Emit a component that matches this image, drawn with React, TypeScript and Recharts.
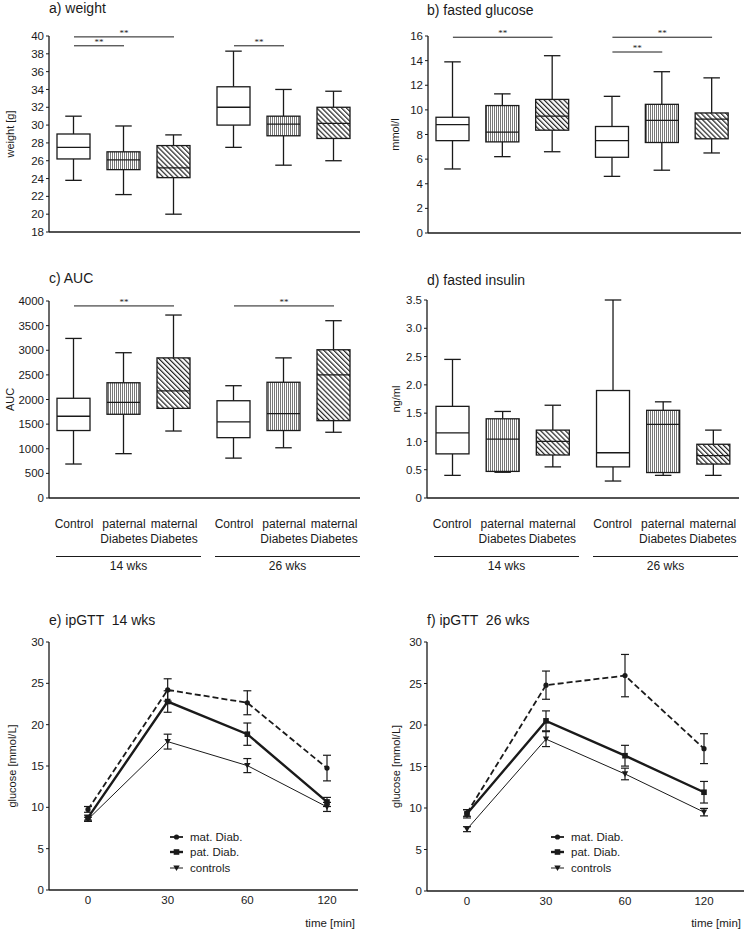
import React from "react";
import {
  ComposedChart,
  LineChart,
  Bar,
  Line,
  XAxis,
  YAxis,
  ReferenceLine,
  ErrorBar,
  Legend,
  Label,
} from "recharts";

const FONT = 'Arial, "Liberation Sans", Helvetica, sans-serif';
const INK = "#1a1a1a";

// box plot categories
const categories = ["Control", "paternal Diabetes", "maternal Diabetes", "Control", "paternal Diabetes", "maternal Diabetes"];
const positions = [1, 2, 3, 4.2, 5.2, 6.2];
const hatches = ["none", "vertical", "diagonal", "none", "vertical", "diagonal"];
const weekLabels = ["14 wks", "26 wks"];

// a) weight [g]
const weightMin = [23.8, 22.2, 20.0, 27.5, 25.5, 26.0];
const weightQ1 = [26.2, 25.0, 24.1, 30.0, 28.8, 28.5];
const weightMed = [27.5, 26.1, 25.2, 32.0, 30.1, 30.2];
const weightQ3 = [29.0, 27.0, 27.7, 34.3, 31.0, 32.0];
const weightMax = [31.0, 29.9, 28.9, 38.3, 34.0, 33.8];
const weightTicks = [18, 20, 22, 24, 26, 28, 30, 32, 34, 36, 38, 40];
const weightSig = [[0, 2, 39.9], [0, 1, 38.9], [3, 4, 38.9]];

// b) fasted glucose [mmol/l]
const glucoseMin = [5.2, 6.2, 6.6, 4.6, 5.1, 6.5];
const glucoseQ1 = [7.5, 7.4, 8.35, 6.15, 7.35, 7.65];
const glucoseMed = [8.8, 8.2, 9.5, 7.5, 9.15, 9.25];
const glucoseQ3 = [9.4, 10.35, 10.85, 8.65, 10.45, 9.75];
const glucoseMax = [13.9, 11.3, 14.4, 11.1, 13.1, 12.6];
const glucoseTicks = [0, 2, 4, 6, 8, 10, 12, 14, 16];
const glucoseSig = [[0, 2, 15.9], [3, 5, 15.9], [3, 4, 14.7]];

// c) AUC
const aucMin = [690, 900, 1360, 810, 1020, 1335];
const aucQ1 = [1370, 1700, 1820, 1225, 1370, 1570];
const aucMed = [1660, 1940, 2175, 1545, 1715, 2500];
const aucQ3 = [2025, 2340, 2845, 1975, 2350, 3010];
const aucMax = [3240, 2950, 3715, 2280, 2845, 3600];
const aucTicks = [0, 500, 1000, 1500, 2000, 2500, 3000, 3500, 4000];
const aucSig = [[0, 2, 3900], [3, 5, 3900]];

// d) fasted insulin [ng/ml]
const insulinMin = [0.4, 0.455, 0.55, 0.3, 0.4, 0.4];
const insulinQ1 = [0.78, 0.47, 0.76, 0.55, 0.45, 0.6];
const insulinMed = [1.15, 1.04, 1.0, 0.8, 1.3, 0.75];
const insulinQ3 = [1.62, 1.4, 1.2, 1.9, 1.55, 0.95];
const insulinMax = [2.45, 1.53, 1.64, 3.5, 1.7, 1.2];
const insulinTicks = [0, 0.5, 1, 1.5, 2, 2.5, 3, 3.5];

// e/f) ipGTT
const times = ["0", "30", "60", "120"];
const seriesNames = ["mat. Diab.", "pat. Diab.", "controls"];
const mat14 = [9.75, 24.2, 22.65, 14.75];
const mat14Err = [0.35, 1.35, 1.45, 1.55];
const pat14 = [8.75, 22.8, 18.85, 10.65];
const pat14Err = [0.3, 1.3, 1.35, 0.55];
const ctl14 = [8.55, 17.95, 15.05, 10.05];
const ctl14Err = [0.25, 0.9, 0.85, 0.55];
const mat26 = [9.4, 24.8, 25.95, 17.15];
const mat26Err = [0.4, 1.7, 2.55, 1.8];
const pat26 = [9.3, 20.5, 16.3, 11.9];
const pat26Err = [0.5, 1.2, 1.25, 1.3];
const ctl26 = [7.45, 18.3, 14.1, 9.5];
const ctl26Err = [0.3, 0.9, 0.7, 0.45];
const gttTicks = [0, 5, 10, 15, 20, 25, 30];

const hatchFill: Record<string, string> = {
  none: "#fff",
  vertical: "url(#hatch-v)",
  diagonal: "url(#hatch-d)",
};

function buildBoxes(min: number[], q1: number[], med: number[], q3: number[], max: number[]) {
  return positions.map((pos, i) => ({
    pos,
    name: categories[i],
    hatch: hatches[i],
    min: min[i],
    q1: q1[i],
    median: med[i],
    q3: q3[i],
    max: max[i],
    range: [min[i], max[i]],
  }));
}

function buildGtt(mat: number[], matErr: number[], pat: number[], patErr: number[], ctl: number[], ctlErr: number[]) {
  return times.map((t, i) => ({
    t,
    mat: mat[i],
    matErr: matErr[i],
    pat: pat[i],
    patErr: patErr[i],
    ctl: ctl[i],
    ctlErr: ctlErr[i],
  }));
}

const BoxShape = (props: any) => {
  const { x, y, width, height, payload } = props;
  if (x == null || y == null) return null;
  const top = Math.min(y, y + height);
  const h = Math.abs(height);
  const { min, q1, median, q3, max } = payload;
  const py = (v: number) => top + ((max - v) / (max - min)) * h;
  const cx = x + width / 2;
  const cap = width / 4;
  return (
    <g stroke={INK} strokeWidth={1.3}>
      <line x1={cx} x2={cx} y1={py(max)} y2={py(q3)} />
      <line x1={cx} x2={cx} y1={py(q1)} y2={py(min)} />
      <line x1={cx - cap} x2={cx + cap} y1={py(max)} y2={py(max)} />
      <line x1={cx - cap} x2={cx + cap} y1={py(min)} y2={py(min)} />
      <rect x={x} y={py(q3)} width={width} height={py(q1) - py(q3)} fill={hatchFill[payload.hatch]} />
      <line x1={x} x2={x + width} y1={py(median)} y2={py(median)} />
    </g>
  );
};

const CategoryTick = (props: any) => {
  const { x, y, payload } = props;
  const i = positions.indexOf(payload.value);
  const words = (categories[i] || "").split(" ");
  return (
    <text x={x} y={y} textAnchor="middle" fontSize={12} fill={INK} fontFamily={FONT}>
      {words.map((w, k) => (
        <tspan key={k} x={x} dy={k === 0 ? 0 : 15}>
          {w}
        </tspan>
      ))}
    </text>
  );
};

const tickStyle = { fontSize: 11.5, fill: INK, fontFamily: FONT };
const axisStyle = { stroke: INK, strokeWidth: 1.3 };

function BoxPanel(props: {
  data: any[];
  yDomain: [number, number];
  yTicks: number[];
  xDomain: [number, number];
  yLabel: string;
  labelOffset: number;
  sig: number[][];
  width: number;
  height: number;
  top: number;
  right: number;
  yWidth: number;
  showCats: boolean;
  fmt?: (v: number) => string;
}) {
  const p = props;
  return (
    <ComposedChart width={p.width} height={p.height} data={p.data} margin={{ top: p.top, right: p.right, bottom: 0, left: 0 }}>
      <XAxis
        dataKey="pos"
        type="number"
        domain={p.xDomain}
        ticks={positions}
        interval={0}
        axisLine={axisStyle}
        tickLine={false}
        tickSize={0}
        tickMargin={30}
        tick={p.showCats ? <CategoryTick /> : false}
        height={p.showCats ? 50 : 8}
      />
      <YAxis
        type="number"
        domain={p.yDomain}
        ticks={p.yTicks}
        interval={0}
        width={p.yWidth}
        axisLine={axisStyle}
        tickLine={{ stroke: INK }}
        tickSize={3}
        tickMargin={2}
        tick={tickStyle}
        tickFormatter={p.fmt}
      >
        <Label
          value={p.yLabel}
          angle={-90}
          position="insideLeft"
          offset={p.labelOffset}
          style={{ textAnchor: "middle", fontSize: 11, fill: INK, fontFamily: FONT }}
        />
      </YAxis>
      <Bar dataKey="range" barSize={33} isAnimationActive={false} shape={(s: any) => <BoxShape {...s} />} />
      {p.sig.map(([a, b, yv], k) => (
        <ReferenceLine
          key={k}
          segment={[
            { x: positions[a], y: yv },
            { x: positions[b], y: yv },
          ]}
          stroke={INK}
          strokeWidth={1}
          ifOverflow="visible"
          label={{ value: "**", position: "top", offset: 1, fontSize: 9, fill: INK }}
        />
      ))}
    </ComposedChart>
  );
}

const marker = (kind: string) => (p: any) => {
  const { cx, cy, index } = p;
  if (cx == null || cy == null) return <g key={index} />;
  if (kind === "circle") return <circle key={index} cx={cx} cy={cy} r={2.6} fill={INK} />;
  if (kind === "square") return <rect key={index} x={cx - 2.8} y={cy - 2.8} width={5.6} height={5.6} fill={INK} />;
  return <path key={index} d={`M${cx - 3.2},${cy - 2.6}L${cx + 3.2},${cy - 2.6}L${cx},${cy + 3}Z`} fill={INK} />;
};

const markerKinds = ["circle", "square", "triangle"];
const legendWidths = [1.8, 2.4, 1];

const GttLegend = () => (
  <div style={{ fontFamily: FONT, fontSize: 11.5, color: INK }}>
    {seriesNames.map((n, i) => (
      <div key={n} style={{ display: "flex", alignItems: "center", height: 15.5 }}>
        <svg width={13} height={8}>
          <line x1={0} y1={4} x2={13} y2={4} stroke={INK} strokeWidth={legendWidths[i]} />
          {marker(markerKinds[i])({ cx: 6.5, cy: 4, index: i })}
        </svg>
        <span style={{ marginLeft: 7 }}>{n}</span>
      </div>
    ))}
  </div>
);

function GttPanel(props: { data: any[]; yWidth: number; right: number; xHeight: number; pad: { left: number; right: number }; labelOffset: number; legendLeft: number }) {
  const p = props;
  return (
    <LineChart width={374} height={330} data={p.data} margin={{ top: 42, right: p.right, bottom: 0, left: 0 }}>
      <XAxis
        dataKey="t"
        type="category"
        padding={p.pad}
        axisLine={axisStyle}
        tickLine={false}
        tickSize={0}
        tickMargin={6}
        tick={tickStyle}
        height={p.xHeight}
        interval={0}
      >
        <Label value="time [min]" position="insideBottomRight" offset={3} style={{ fontSize: 11.5, fill: INK, fontFamily: FONT }} />
      </XAxis>
      <YAxis
        type="number"
        domain={[0, 30]}
        ticks={gttTicks}
        interval={0}
        width={p.yWidth}
        axisLine={axisStyle}
        tickLine={{ stroke: INK }}
        tickSize={3}
        tickMargin={2}
        tick={tickStyle}
      >
        <Label
          value="glucose [mmol/L]"
          angle={-90}
          position="insideLeft"
          offset={p.labelOffset}
          style={{ textAnchor: "middle", fontSize: 11, fill: INK, fontFamily: FONT }}
        />
      </YAxis>
      <Legend
        layout="vertical"
        align="center"
        verticalAlign="middle"
        wrapperStyle={{ left: p.legendLeft, top: 229, width: 120 }}
        content={() => <GttLegend />}
      />
      <Line dataKey="ctl" stroke={INK} strokeWidth={1} dot={marker("triangle")} isAnimationActive={false}>
        <ErrorBar dataKey="ctlErr" width={4} stroke={INK} strokeWidth={1.2} direction="y" />
      </Line>
      <Line dataKey="pat" stroke={INK} strokeWidth={2.4} dot={marker("square")} isAnimationActive={false}>
        <ErrorBar dataKey="patErr" width={4} stroke={INK} strokeWidth={1.2} direction="y" />
      </Line>
      <Line dataKey="mat" stroke={INK} strokeWidth={1.8} strokeDasharray="6 3" dot={marker("circle")} isAnimationActive={false}>
        <ErrorBar dataKey="matErr" width={4} stroke={INK} strokeWidth={1.2} direction="y" />
      </Line>
    </LineChart>
  );
}

const abs = (left: number, top: number): React.CSSProperties => ({ position: "absolute", left, top });

const titleStyle: React.CSSProperties = { fontFamily: FONT, fontSize: 14, lineHeight: "16px", color: INK, whiteSpace: "pre" };

function Brackets({ spans }: { spans: [number, number][] }) {
  return (
    <>
      {spans.map(([x1, x2], i) => (
        <React.Fragment key={i}>
          <div style={{ ...abs(x1, 556), width: x2 - x1, borderTop: `1.3px solid ${INK}` }} />
          <div
            style={{
              ...abs(x1, 559),
              width: x2 - x1,
              textAlign: "center",
              fontFamily: FONT,
              fontSize: 12,
              lineHeight: "14px",
              color: INK,
            }}
          >
            {weekLabels[i]}
          </div>
        </React.Fragment>
      ))}
    </>
  );
}

export default function App() {
  const weight = buildBoxes(weightMin, weightQ1, weightMed, weightQ3, weightMax);
  const glucose = buildBoxes(glucoseMin, glucoseQ1, glucoseMed, glucoseQ3, glucoseMax);
  const auc = buildBoxes(aucMin, aucQ1, aucMed, aucQ3, aucMax);
  const insulin = buildBoxes(insulinMin, insulinQ1, insulinMed, insulinQ3, insulinMax);
  const gtt14 = buildGtt(mat14, mat14Err, pat14, pat14Err, ctl14, ctl14Err);
  const gtt26 = buildGtt(mat26, mat26Err, pat26, pat26Err, ctl26, ctl26Err);

  return (
    <div style={{ position: "absolute", left: 0, top: 0, width: 748, height: 930, background: "#fff", overflow: "hidden" }}>
      <svg width={0} height={0} style={{ position: "absolute" }}>
        <defs>
          <pattern id="hatch-v" width={2} height={4} patternUnits="userSpaceOnUse">
            <rect width={2} height={4} fill="#fff" />
            <line x1={0.5} y1={0} x2={0.5} y2={4} stroke="#777" strokeWidth={1} />
          </pattern>
          <pattern id="hatch-d" width={3.5} height={3.5} patternUnits="userSpaceOnUse" patternTransform="rotate(-45)">
            <rect width={3.5} height={3.5} fill="#fff" />
            <line x1={0.6} y1={0} x2={0.6} y2={3.5} stroke="#222" strokeWidth={1.2} />
          </pattern>
        </defs>
      </svg>

      <div style={{ ...abs(49, 0), ...titleStyle }}>a) weight</div>
      <div style={{ ...abs(427, 2), ...titleStyle }}>b) fasted glucose</div>
      <div style={{ ...abs(49, 270), ...titleStyle }}>c) AUC</div>
      <div style={{ ...abs(427, 272), ...titleStyle }}>d) fasted insulin</div>
      <div style={{ ...abs(49, 612), ...titleStyle }}>e) ipGTT  14 wks</div>
      <div style={{ ...abs(427, 612), ...titleStyle }}>f) ipGTT  26 wks</div>

      <div style={abs(0, 0)}>
        <BoxPanel data={weight} yDomain={[18, 40]} yTicks={weightTicks} xDomain={[0.5, 6.72]} yLabel="weight [g]" labelOffset={10}
          sig={weightSig} width={374} height={240} top={36} right={14} yWidth={49} showCats={false} />
      </div>
      <div style={abs(374, 0)}>
        <BoxPanel data={glucose} yDomain={[0, 16]} yTicks={glucoseTicks} xDomain={[0.5, 6.78]} yLabel="mmol/l" labelOffset={21}
          sig={glucoseSig} width={374} height={241} top={36} right={7} yWidth={54} showCats={false} />
      </div>
      <div style={abs(0, 260)}>
        <BoxPanel data={auc} yDomain={[0, 4000]} yTicks={aucTicks} xDomain={[0.5, 6.72]} yLabel="AUC" labelOffset={10}
          sig={aucSig} width={374} height={288} top={41} right={14} yWidth={49} showCats={true} />
      </div>
      <div style={abs(374, 260)}>
        <BoxPanel data={insulin} yDomain={[0, 3.5]} yTicks={insulinTicks} xDomain={[0.5, 6.72]} yLabel="ng/ml" labelOffset={22}
          sig={[]} width={374} height={288} top={40} right={9} yWidth={53} showCats={true}
          fmt={(v: number) => (v === 0 ? "0" : v.toFixed(1))} />
      </div>

      <Brackets spans={[[56, 201], [215, 360]]} />
      <Brackets spans={[[434, 579], [593, 738]]} />

      <div style={abs(0, 600)}>
        <GttPanel data={gtt14} yWidth={49} right={16} xHeight={40} pad={{ left: 39, right: 31 }} labelOffset={12} legendLeft={170} />
      </div>
      <div style={abs(374, 600)}>
        <GttPanel data={gtt26} yWidth={53} right={4} xHeight={39} pad={{ left: 40, right: 40 }} labelOffset={22} legendLeft={177} />
      </div>
    </div>
  );
}
